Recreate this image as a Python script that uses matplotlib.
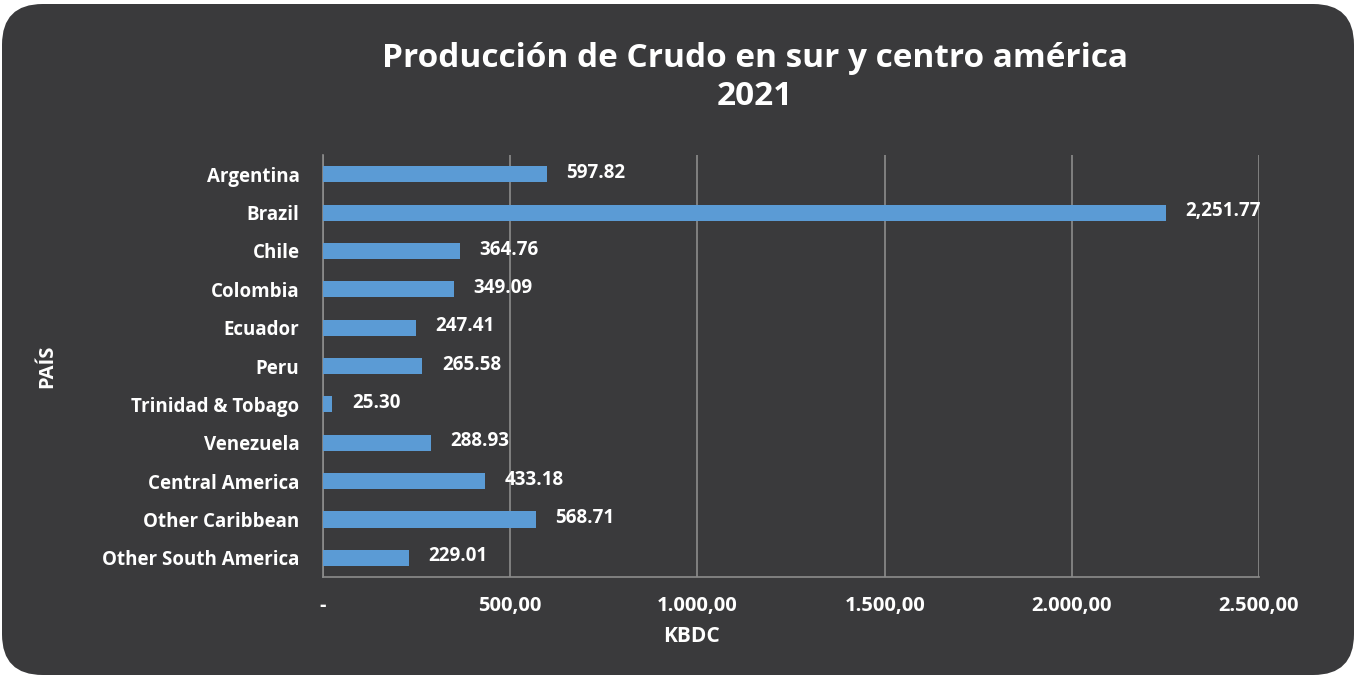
import matplotlib.pyplot as plt
from matplotlib.patches import FancyBboxPatch
from matplotlib.ticker import FixedLocator, FixedFormatter

paises = ["Argentina", "Brazil", "Chile", "Colombia", "Ecuador", "Peru",
          "Trinidad & Tobago", "Venezuela", "Central America",
          "Other Caribbean", "Other South America"]
produccion = [597.82, 2251.77, 364.76, 349.09, 247.41, 265.58,
              25.30, 288.93, 433.18, 568.71, 229.01]
x_ticks = [0, 500, 1000, 1500, 2000, 2500]
x_tick_labels = ["-", "500,00", "1.000,00", "1.500,00", "2.000,00", "2.500,00"]

bg = "#3a3a3c"
bar_color = "#5b9bd5"
grid_color = "#8c8c8c"
plt.rcParams["font.family"] = ["Open Sans", "DejaVu Sans"]
plt.rcParams["font.weight"] = "bold"

fig = plt.figure(figsize=(13.56, 6.77), dpi=100)
fig.patch.set_facecolor("white")
card = FancyBboxPatch((2 / 1356, 2 / 677), 1352 / 1356, 671 / 677,
                      boxstyle="round,pad=0,rounding_size=0.03",
                      mutation_aspect=1356 / 677,
                      transform=fig.transFigure, facecolor=bg,
                      edgecolor="none", zorder=-5)
fig.patches.append(card)

ax = fig.add_axes([0.2382, 0.1477, 0.6903, 0.6233])
ax.set_facecolor("none")
ax.set_zorder(2)

ypos = list(range(len(paises)))
ax.barh(ypos, produccion, height=0.42, color=bar_color, zorder=3)
for y, v in zip(ypos, produccion):
    ax.annotate(f"{v:,.2f}", (v, y), xytext=(14, 1), textcoords="offset points",
                va="center", ha="left", color="white", fontsize=13.5,
                fontweight="bold", zorder=4)

ax.set_ylim(len(paises) - 0.5, -0.5)
ax.set_xlim(0, 2500)
ax.set_yticks(ypos)
ax.set_yticklabels(paises)
ax.xaxis.set_major_locator(FixedLocator(x_ticks))
ax.xaxis.set_major_formatter(FixedFormatter(x_tick_labels))
ax.tick_params(axis="both", length=0, colors="white")
ax.tick_params(axis="y", pad=17, labelsize=13.5)
ax.tick_params(axis="x", pad=14, labelsize=14.5)
for lbl in ax.get_xticklabels() + ax.get_yticklabels():
    lbl.set_fontweight("bold")

ax.grid(axis="x", color=grid_color, linewidth=1.2, zorder=1)
for side in ["top", "right"]:
    ax.spines[side].set_visible(False)
ax.spines["left"].set_color(grid_color)
ax.spines["bottom"].set_color(grid_color)
ax.spines["left"].set_linewidth(1.2)
ax.spines["bottom"].set_linewidth(1.2)

ax.set_xlabel("KBDC", color="white", fontsize=15, fontweight="bold")
ax.xaxis.set_label_coords(0.394, -0.14)
ax.xaxis.label.set_va("center")
ax.set_ylabel("PAÍS", color="white", fontsize=14.5, fontweight="bold")
ax.yaxis.set_label_coords(-0.295, 0.5)
ax.yaxis.label.set_va("center")

fig.text(0.557, 0.886, "Producción de Crudo en sur y centro américa\n2021",
         ha="center", va="center", color="white", fontsize=24,
         fontweight="bold", linespacing=1.2)

fig.savefig("out.png", dpi=100)
